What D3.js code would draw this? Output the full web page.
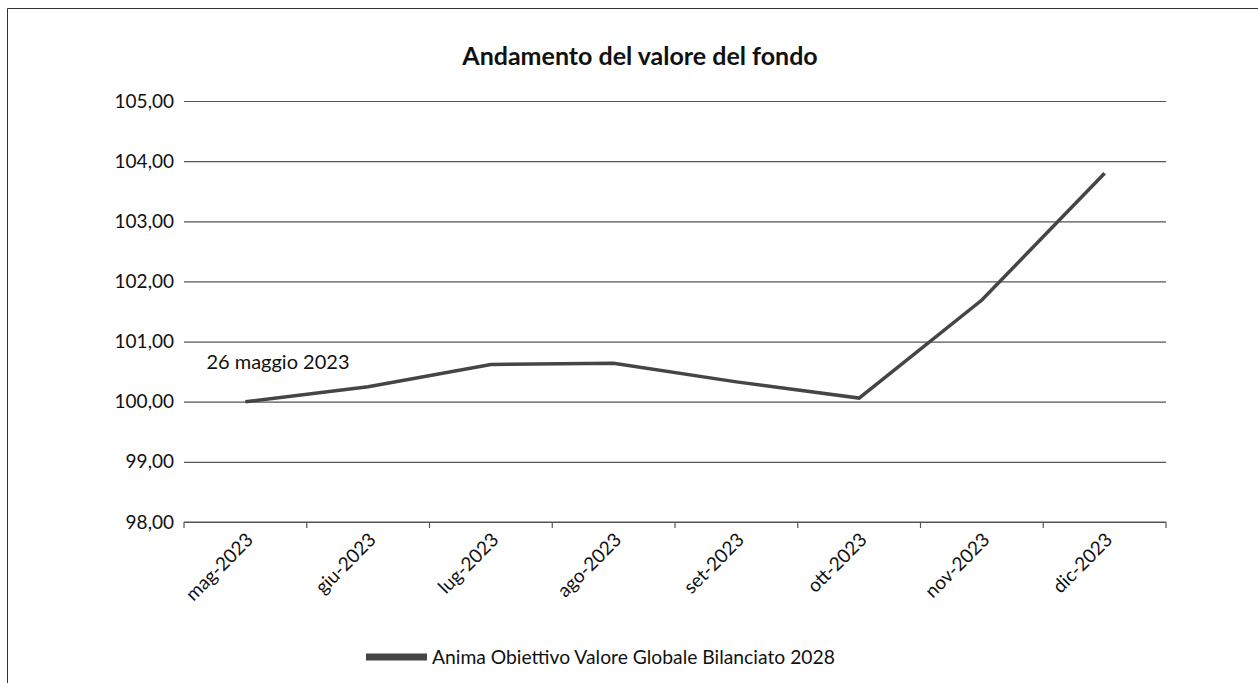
<!DOCTYPE html>
<html>
<head>
<meta charset="utf-8">
<script src="https://cdn.jsdelivr.net/npm/d3@7"></script>
<style>
    html, body { margin: 0; padding: 0; background: #fff; }
    svg { display: block; font-family: Lato, "Open Sans", sans-serif; }
</style>
</head>
<body>
<svg width="1258" height="683" viewBox="0 0 1258 683"></svg>
<script>
// Andamento del valore del fondo

const months = ['mag-2023', 'giu-2023', 'lug-2023', 'ago-2023', 'set-2023', 'ott-2023', 'nov-2023', 'dic-2023'];
const values = [100.00, 100.25, 100.62, 100.64, 100.33, 100.06, 101.69, 103.80];
const yTicks = [98, 99, 100, 101, 102, 103, 104, 105];
const seriesName = 'Anima Obiettivo Valore Globale Bilanciato 2028';
const startNote = '26 maggio 2023';

const svg = d3.select('svg');
const width = 1258;
const height = 683;
const margin = { top: 101, right: 92, bottom: 161, left: 184 };
const innerWidth = width - margin.left - margin.right;
const innerHeight = height - margin.top - margin.bottom;

const data = months.map((m, i) => ({ month: m, value: values[i] }));

// outer frame, only left and top are inside the picture
svg.append('line')
    .attr('x1', 7.5).attr('y1', 8.5).attr('x2', 7.5).attr('y2', height)
    .attr('stroke', '#333');
svg.append('line')
    .attr('x1', 7.5).attr('y1', 8.5).attr('x2', width).attr('y2', 8.5)
    .attr('stroke', '#333');

svg.append('text')
    .attr('x', 640).attr('y', 65)
    .attr('text-anchor', 'middle')
    .attr('font-weight', 'bold')
    .attr('font-size', 25)
    .attr('fill', '#111')
    .text('Andamento del valore del fondo');

const g = svg.append('g')
    .attr('transform', `translate(${margin.left},${margin.top})`);

const xScale = d3.scaleBand()
    .domain(months)
    .range([0, innerWidth]);

const yScale = d3.scaleLinear()
    .domain([98, 105])
    .range([innerHeight, 0]);

// gridlines + y labels
const yAxis = d3.axisLeft(yScale)
    .tickValues(yTicks)
    .tickSize(-innerWidth)
    .tickPadding(10)
    .tickFormat(d => d3.format('.2f')(d).replace('.', ','));

g.append('g')
    .call(yAxis)
    .call(s => s.select('.domain').remove())
    .call(s => s.selectAll('line').attr('stroke', '#555').attr('stroke-width', 1.2))
    .call(s => s.selectAll('text')
        .attr('font-size', 19)
        .attr('fill', '#111')
        .attr('font-family', 'Lato, sans-serif'));

// x axis with ticks at band edges
const xAxisG = g.append('g')
    .attr('transform', `translate(0,${innerHeight})`);

xAxisG.append('line')
    .attr('x1', 0).attr('x2', innerWidth)
    .attr('stroke', '#555').attr('stroke-width', 1.2);

xAxisG.selectAll('.edge')
    .data(months.concat(['end']))
    .join('line')
    .attr('class', 'edge')
    .attr('x1', (d, i) => i * xScale.bandwidth())
    .attr('x2', (d, i) => i * xScale.bandwidth())
    .attr('y1', 0).attr('y2', 6)
    .attr('stroke', '#555').attr('stroke-width', 1.2);

xAxisG.selectAll('.xlabel')
    .data(months)
    .join('text')
    .attr('class', 'xlabel')
    .attr('transform', d => `translate(${xScale(d) + xScale.bandwidth() / 2 + 9},${19}) rotate(-45)`)
    .attr('text-anchor', 'end')
    .attr('font-size', 19)
    .attr('fill', '#111')
    .text(d => d);

// series line
const line = d3.line()
    .x(d => xScale(d.month) + xScale.bandwidth() / 2)
    .y(d => yScale(d.value));

g.append('path')
    .datum(data)
    .attr('fill', 'none')
    .attr('stroke', '#454545')
    .attr('stroke-width', 3.5)
    .attr('d', line);

// note at the first point
g.append('text')
    .attr('x', xScale(months[0]) + xScale.bandwidth() / 2 - 39)
    .attr('y', yScale(values[0] + 0.55))
    .attr('font-size', 20)
    .attr('fill', '#111')
    .text(startNote);

// legend
const legend = svg.append('g')
    .attr('transform', 'translate(366,657)');

legend.append('rect')
    .attr('x', 0).attr('y', -3.5)
    .attr('width', 61).attr('height', 7)
    .attr('fill', '#454545');

legend.append('text')
    .attr('x', 66).attr('y', 7)
    .attr('font-size', 19.3)
    .attr('fill', '#111')
    .text(seriesName);
</script>
</body>
</html>
